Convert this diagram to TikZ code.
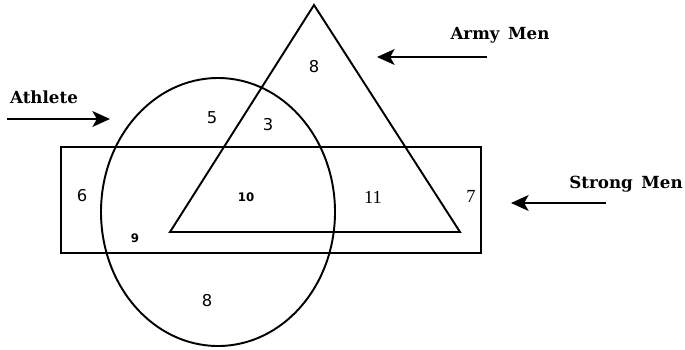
\documentclass[tikz,border=0pt]{standalone}
\usepackage{fontspec}
\newfontfamily\numsans{DejaVu Sans}
\newfontfamily\labelserif{DejaVu Serif}
\newfontfamily\numserif{Liberation Serif}
\usetikzlibrary{arrows.meta}

\begin{document}
\begin{tikzpicture}[x=0.02cm, y=-0.02cm, line width=1.1pt,
    setlabel/.style={font=\labelserif\bfseries\fontsize{9.5}{11}\selectfont},
    num/.style={font=\numsans\fontsize{9.3}{11}\selectfont},
    smallnum/.style={font=\numsans\bfseries\fontsize{6.7}{8}\selectfont},
    serifnum/.style={font=\numserif\fontsize{10.5}{12}\selectfont},
    pointer/.style={-{Stealth[length=10pt, width=9pt, inset=2.5pt]}, line width=1.2pt}]
                \useasboundingbox (0,0) rectangle (685,349);
                % Sets
                \coordinate (apex) at (314,5);
                \coordinate (tl) at (170,232);
                \coordinate (tr) at (460,232);
                \draw (apex) -- (tl) -- (tr) -- cycle;
                \draw (61,147) rectangle (481,253);
                \draw (218,212) ellipse [x radius=117, y radius=134];
                
                % Region counts
                \node[num] (armyonly) at (314,67) {8};
                \node[num] (athonly) at (212,118) {5};
                \node[num] (atharmy) at (268,125) {3};
                \node[num] (strongonly) at (82,196) {6};
                \node[smallnum] (all) at (246,197) {10};
                \node[serifnum] (armystrong) at (373,197) {11};
                \node[serifnum] (outside) at (471,196) {7};
                \node[smallnum] (athstrong) at (135,238) {9};
                \node[num] (athrest) at (207,301) {8};
                
                % Set names and pointers
                \node[setlabel] (athlete) at (44,97) {Athlete};
                \node[setlabel] (army) at (500,35) {Army\, Men};
                \node[setlabel] (strong) at (626,184) {Strong\, Men};
                \coordinate (athfrom) at (7,119);
                \coordinate (athto) at (110,119);
                \coordinate (armyfrom) at (487,57);
                \coordinate (armyto) at (377,57);
                \coordinate (strongfrom) at (606,203);
                \coordinate (strongto) at (511,203);
                \draw[pointer] (athfrom) -- (athto);
                \draw[pointer] (armyfrom) -- (armyto);
                \draw[pointer] (strongfrom) -- (strongto);
            \end{tikzpicture}
\end{document}
